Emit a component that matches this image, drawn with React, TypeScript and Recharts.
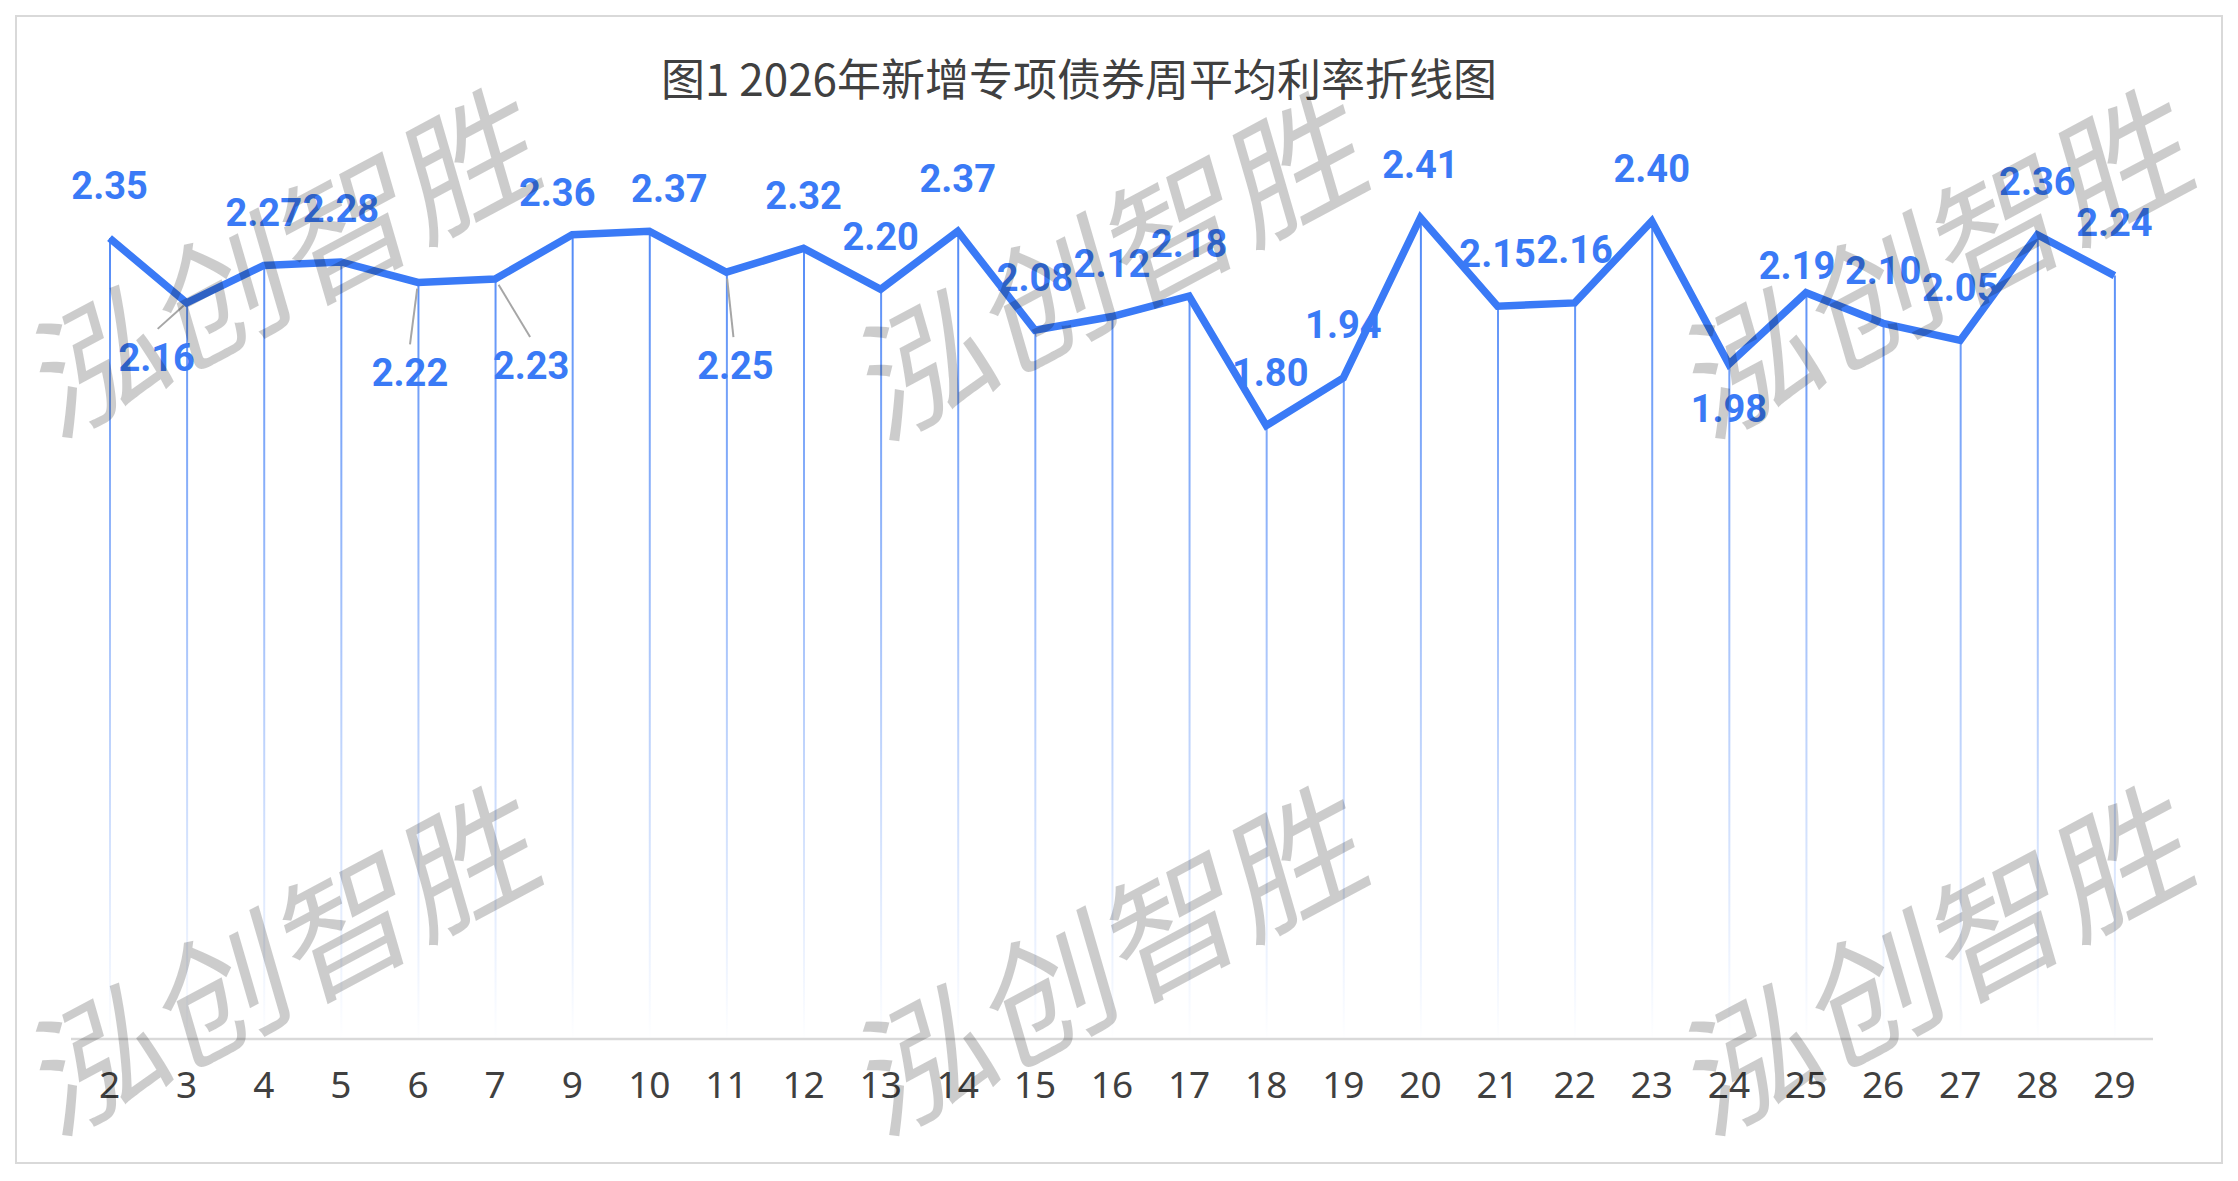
import React from 'react';
import { ComposedChart, Line, Bar, XAxis, YAxis, LabelList } from 'recharts';

// week numbers on the x axis (week 8 has no issue)
const weeks = ['2', '3', '4', '5', '6', '7', '9', '10', '11', '12', '13', '14', '15', '16', '17', '18', '19', '20', '21', '22', '23', '24', '25', '26', '27', '28', '29'];
// average weekly rate of new special bonds, %
const rates = [2.35, 2.16, 2.27, 2.28, 2.22, 2.23, 2.36, 2.37, 2.25, 2.32, 2.20, 2.37, 2.08, 2.12, 2.18, 1.80, 1.94, 2.41, 2.15, 2.16, 2.40, 1.98, 2.19, 2.10, 2.05, 2.36, 2.24];

const data = weeks.map((week, i) => ({ week, rate: rates[i] }));

const BLUE = '#3a7af6';
const W = 2238;
const H = 1181;
const M = { top: 187, right: 85, bottom: 82, left: 71 };

// a few labels were moved off the line in the original, some with leader lines
const labelShift: Record<number, { dx: number; dy: number; lead?: [number, number] }> = {
  1: { dx: -30, dy: 55, lead: [-29, 26] },
  4: { dx: -8, dy: 90, lead: [-8, 62] },
  5: { dx: 36, dy: 86, lead: [35, 58] },
  6: { dx: -15, dy: -42 },
  7: { dx: 20, dy: -43 },
  8: { dx: 9, dy: 93, lead: [7, 65] },
  15: { dx: 4, dy: -53 },
  21: { dx: 0, dy: 44 },
  22: { dx: -9, dy: -27 },
};

const band = (W - M.left - M.right) / weeks.length;

function RateLabel(props: any) {
  const { x, y, value } = props;
  let index = props.index;
  if (index === undefined || index === null) index = Math.round((x - M.left) / band - 0.5);
  const s = labelShift[index] || { dx: 0, dy: -53 };
  return (
    <g>
      {s.lead && (
        <line
          x1={x + s.lead[0] * 0.1}
          y1={y + s.lead[1] * 0.1}
          x2={x + s.lead[0]}
          y2={y + s.lead[1]}
          stroke="#a6a6a6"
          strokeWidth={2}
        />
      )}
      <text
        x={x + s.dx}
        y={y + s.dy + 13.5}
        textAnchor="middle"
        fill={BLUE}
        fontFamily="Roboto, 'Noto Sans', sans-serif"
        fontWeight={700}
        fontSize={38}
      >
        {Number(value).toFixed(2)}
      </text>
    </g>
  );
}

// watermark centres
const marks = [
  [284, 252], [1111, 255], [1937, 253],
  [284, 950], [1111, 950], [1937, 950],
];

export default function App() {
  return (
    <div style={{ position: 'absolute', left: 0, top: 0, width: W, height: H, background: '#fff' }}>
      <svg width={0} height={0} style={{ position: 'absolute' }}>
        <defs>
          <linearGradient id="dropFade" gradientUnits="userSpaceOnUse" x1={0} y1={220} x2={0} y2={1040}>
            <stop offset="0%" stopColor="#4f88f7" stopOpacity={1} />
            <stop offset="45%" stopColor="#4f88f7" stopOpacity={0.55} />
            <stop offset="100%" stopColor="#4f88f7" stopOpacity={0} />
          </linearGradient>
        </defs>
      </svg>
      <ComposedChart width={W} height={H} data={data} margin={M}>
        <XAxis
          dataKey="week"
          interval={0}
          tickLine={false}
          tickSize={0}
          tickMargin={33}
          height={60}
          axisLine={{ stroke: '#d9d9d9', strokeWidth: 2.5 }}
          tick={{ fill: '#404040', fontSize: 37, fontFamily: "'Noto Sans', sans-serif" }}
        />
        <YAxis hide domain={[0, 2.5]} />
        <Bar dataKey="rate" barSize={2} fill="url(#dropFade)" isAnimationActive={false} />
        <Line
          type="linear"
          dataKey="rate"
          stroke={BLUE}
          strokeWidth={7.5}
          strokeLinejoin="miter"
          dot={false}
          activeDot={false}
          isAnimationActive={false}
        >
          <LabelList dataKey="rate" content={RateLabel} />
        </Line>
      </ComposedChart>
      <svg width={W} height={H} style={{ position: 'absolute', left: 0, top: 0, pointerEvents: 'none' }}>
        <rect x={16} y={16} width={2206} height={1147} fill="none" stroke="#d9d9d9" strokeWidth={2} />
        <text
          x={1079}
          y={96}
          textAnchor="middle"
          fill="#404040"
          fontSize={44}
          fontFamily="'Noto Sans CJK SC', sans-serif"
        >
          图1 2026年新增专项债券周平均利率折线图
        </text>
        {marks.map(([cx, cy], i) => (
          <text
            key={i}
            transform={`matrix(0.949 -0.505 0.29 1.0 ${cx} ${cy})`}
            textAnchor="middle"
            dominantBaseline="central"
            fontSize={130}
            fill="#000"
            fillOpacity={0.2}
            fontFamily="'Noto Sans CJK SC', sans-serif"
          >
            泓创智胜
          </text>
        ))}
      </svg>
    </div>
  );
}
